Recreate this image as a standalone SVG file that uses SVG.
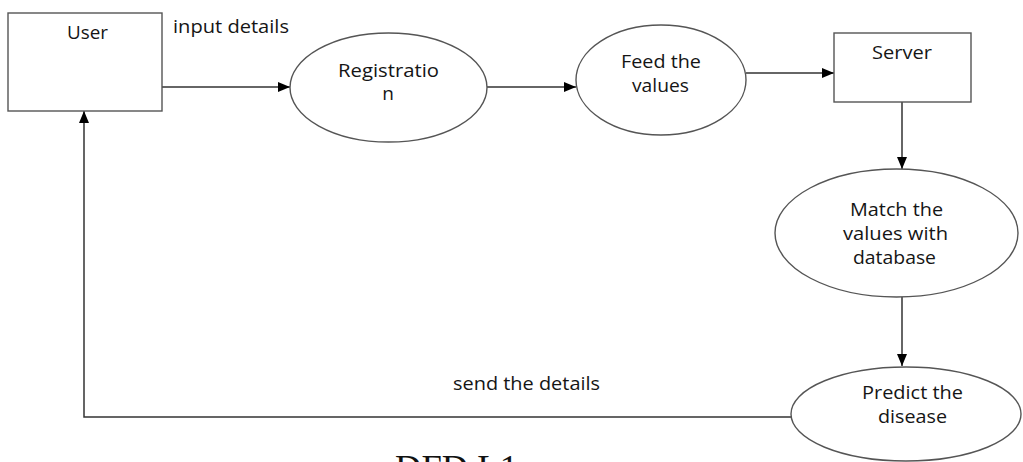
<svg xmlns="http://www.w3.org/2000/svg" width="1023" height="462" viewBox="0 0 1023 462">
  <style>
    .shape { fill: #ffffff; stroke: #555555; stroke-width: 1.4; }
    .flow { fill: none; stroke: #333333; stroke-width: 1.5; }
    .lbl { font-family: "Open Sans", "Liberation Sans", sans-serif; font-size: 19px; fill: #151515; }
    .mid { text-anchor: middle; }
    .caption { font-family: "Liberation Serif", serif; font-size: 36px; fill: #111111; }
  </style>
  <defs>
    <marker id="arrow" viewBox="0 0 12 10" refX="12" refY="5" markerWidth="12" markerHeight="10" markerUnits="userSpaceOnUse" orient="auto">
      <path d="M0,0 L12,5 L0,10 Z" fill="#000000"/>
    </marker>
  </defs>
  <rect width="1023" height="462" fill="#ffffff"/>

  <!-- connectors -->
  <g id="connectors">
    <line class="flow" x1="162" y1="87" x2="290" y2="87" marker-end="url(#arrow)"/>
    <line class="flow" x1="487" y1="87" x2="576" y2="87" marker-end="url(#arrow)"/>
    <line class="flow" x1="746" y1="73" x2="834" y2="73" marker-end="url(#arrow)"/>
    <line class="flow" x1="902" y1="102" x2="902" y2="169" marker-end="url(#arrow)"/>
    <line class="flow" x1="902" y1="297" x2="902" y2="366" marker-end="url(#arrow)"/>
    <polyline class="flow" points="791,417 84,417 84,111" marker-end="url(#arrow)"/>
    <text class="lbl" x="173" y="33" textLength="116" lengthAdjust="spacingAndGlyphs">input details</text>
    <text class="lbl" x="453" y="390" textLength="147" lengthAdjust="spacingAndGlyphs">send the details</text>
  </g>

  <g id="user">
    <rect class="shape" x="8" y="13" width="154" height="98"/>
    <text class="lbl" x="67" y="39" textLength="41" lengthAdjust="spacingAndGlyphs">User</text>
  </g>

  <g id="registration">
    <ellipse class="shape" cx="388.5" cy="87.5" rx="98.5" ry="54.5"/>
    <text class="lbl" x="338" y="77" textLength="101" lengthAdjust="spacingAndGlyphs">Registratio</text>
    <text class="lbl mid" x="388" y="100">n</text>
  </g>

  <g id="feed-values">
    <ellipse class="shape" cx="661" cy="80" rx="85" ry="55"/>
    <text class="lbl" x="621" y="68" textLength="80" lengthAdjust="spacingAndGlyphs">Feed the</text>
    <text class="lbl" x="632" y="92" textLength="57" lengthAdjust="spacingAndGlyphs">values</text>
  </g>

  <g id="server">
    <rect class="shape" x="834" y="33" width="137" height="69"/>
    <text class="lbl" x="872" y="59" textLength="60" lengthAdjust="spacingAndGlyphs">Server</text>
  </g>

  <g id="match">
    <ellipse class="shape" cx="896.5" cy="233" rx="121.5" ry="64"/>
    <text class="lbl" x="850" y="216" textLength="93" lengthAdjust="spacingAndGlyphs">Match the</text>
    <text class="lbl" x="843" y="240" textLength="105" lengthAdjust="spacingAndGlyphs">values with</text>
    <text class="lbl" x="853" y="264" textLength="83" lengthAdjust="spacingAndGlyphs">database</text>
  </g>

  <g id="predict">
    <ellipse class="shape" cx="906" cy="414" rx="115" ry="47"/>
    <text class="lbl" x="862" y="399" textLength="101" lengthAdjust="spacingAndGlyphs">Predict the</text>
    <text class="lbl" x="878" y="423" textLength="69" lengthAdjust="spacingAndGlyphs">disease</text>
  </g>

  <text class="caption" x="395" y="480" textLength="123" lengthAdjust="spacingAndGlyphs">DFD L1</text>
</svg>
